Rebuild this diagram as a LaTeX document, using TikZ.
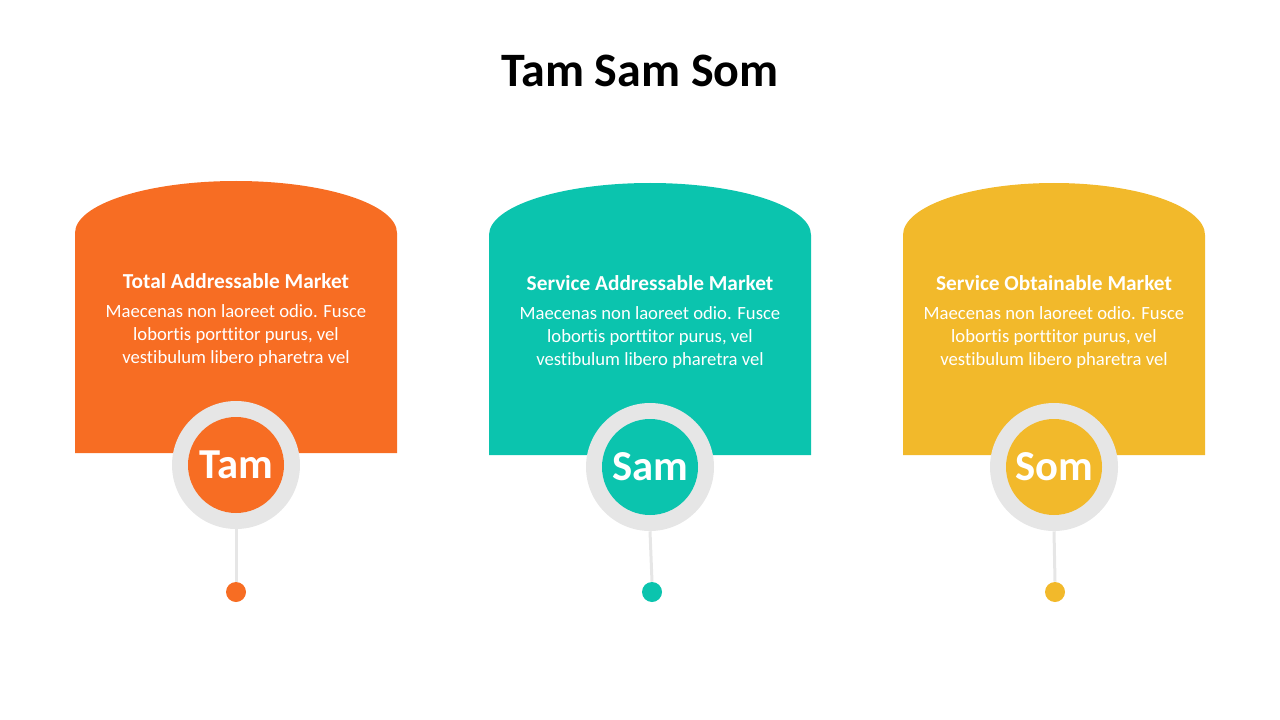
\documentclass[tikz,border=0pt]{standalone}
\usepackage{fontspec}
\setmainfont{Carlito}[Ligatures={NoCommon}]
\usepackage{tikz}
\usetikzlibrary{positioning,calc}
\definecolor{tamorange}{RGB}{247,109,35}
\definecolor{samteal}{RGB}{11,196,174}
\definecolor{somyellow}{RGB}{242,185,43}
\definecolor{ringgray}{RGB}{230,230,230}

\begin{document}
\begin{tikzpicture}[
  x=0.75pt,y=-0.75pt,
  title/.style={font=\fontsize{36}{43}\selectfont\bfseries,text=black},
  head/.style={font=\fontsize{16}{19}\selectfont\bfseries,text=white,align=center},
  body/.style={font=\fontsize{14}{17.25}\selectfont,text=white,align=center},
  ring/.style={circle,fill=ringgray,minimum size=96pt,inner sep=0pt},
  badge/.style={circle,minimum size=72pt,inner sep=0pt,text=white,font=\fontsize{32}{38}\selectfont\bfseries},
  dot/.style={circle,minimum size=15pt,inner sep=0pt},
  stem/.style={draw=ringgray,line width=2.25pt}
]
\useasboundingbox (0,0) rectangle (1280,720);

\node[title] (ttl) at (640,71) {Tam Sam Som};

% cards
\fill[tamorange] (75,453) -- (75,233) arc[start angle=180,end angle=360,x radius=161,y radius=52] -- (397,453) -- cycle;
\fill[samteal] (489,455) -- (489,235) arc[start angle=180,end angle=360,x radius=161,y radius=52] -- (811,455) -- cycle;
\fill[somyellow] (903,455) -- (903,235) arc[start angle=180,end angle=360,x radius=151,y radius=52] -- (1205,455) -- cycle;

% texts
\node[head] (tamhead) at (236,281) {Total Addressable Market};
\node[body,below=5pt of tamhead] (tambody) {Maecenas non laoreet odio. Fusce\\lobortis porttitor purus, vel\\vestibulum libero pharetra vel};
\node[head] (samhead) at (650,283) {Service Addressable Market};
\node[body,below=5pt of samhead] (sambody) {Maecenas non laoreet odio. Fusce\\lobortis porttitor purus, vel\\vestibulum libero pharetra vel};
\node[head] (somhead) at (1054,283) {Service Obtainable Market};
\node[body,below=5pt of somhead] (sombody) {Maecenas non laoreet odio. Fusce\\lobortis porttitor purus, vel\\vestibulum libero pharetra vel};

% badges
\node[ring] (tamring) at (236,465) {};
\node[badge,fill=tamorange] (tam) at (tamring) {Tam};
\node[dot,fill=tamorange] (tamdot) at (236,592) {};
\node[ring] (samring) at (650,467) {};
\node[badge,fill=samteal] (sam) at (samring) {Sam};
\node[dot,fill=samteal] (samdot) at (652,592) {};
\node[ring] (somring) at (1054,467) {};
\node[badge,fill=somyellow] (som) at (somring) {Som};
\node[dot,fill=somyellow] (somdot) at (1055,592) {};

% stems
\draw[stem] (tamring.south) -- (tamdot.north);
\draw[stem] (samring.south) -- (samdot.north);
\draw[stem] (somring.south) -- (somdot.north);
\end{tikzpicture}
\end{document}
